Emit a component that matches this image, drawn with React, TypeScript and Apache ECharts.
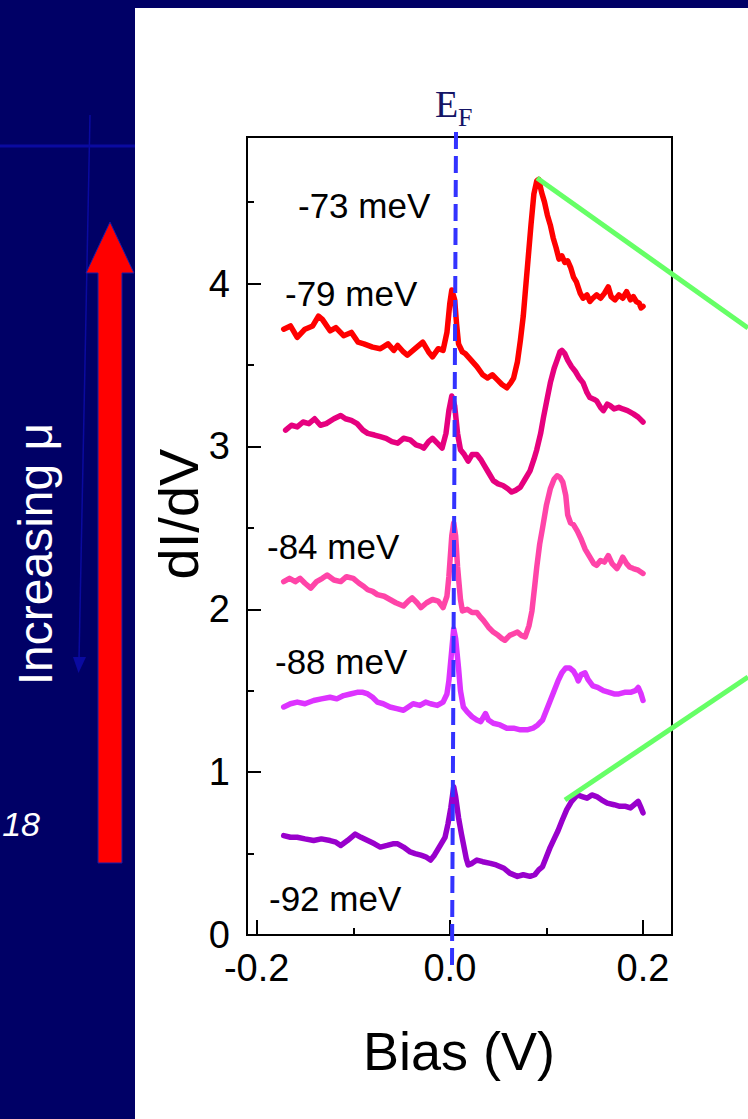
import React, { useEffect, useRef } from "react";
import * as echarts from "echarts";

// ---- data (Bias V, dI/dV offset) ----
const seriesNames = ["-73 meV", "-79 meV", "-84 meV", "-88 meV", "-92 meV"];
const seriesColors = ["#ff0000", "#e6007e", "#ff44a8", "#dd33ff", "#9900cc"];

const curve73: number[][] = [[-0.172,3.72],[-0.165,3.74],[-0.158,3.67],[-0.150,3.72],[-0.142,3.74],[-0.136,3.80],[-0.132,3.78],[-0.124,3.71],[-0.118,3.73],[-0.110,3.68],[-0.102,3.70],[-0.095,3.64],[-0.089,3.63],[-0.080,3.61],[-0.072,3.60],[-0.064,3.63],[-0.058,3.59],[-0.054,3.62],[-0.048,3.58],[-0.044,3.56],[-0.036,3.60],[-0.028,3.64],[-0.022,3.58],[-0.018,3.55],[-0.012,3.60],[-0.007,3.59],[-0.003,3.70],[0.000,3.88],[0.002,3.96],[0.005,3.90],[0.007,3.75],[0.009,3.63],[0.013,3.58],[0.016,3.57],[0.022,3.53],[0.028,3.49],[0.034,3.44],[0.039,3.42],[0.044,3.44],[0.049,3.41],[0.054,3.38],[0.059,3.36],[0.063,3.39],[0.066,3.42],[0.070,3.52],[0.073,3.65],[0.076,3.80],[0.078,3.94],[0.081,4.15],[0.084,4.36],[0.087,4.55],[0.090,4.63],[0.092,4.64],[0.095,4.56],[0.098,4.50],[0.101,4.42],[0.104,4.36],[0.107,4.28],[0.110,4.22],[0.113,4.15],[0.116,4.17],[0.119,4.13],[0.122,4.14],[0.125,4.10],[0.128,4.04],[0.131,4.01],[0.135,3.94],[0.138,3.91],[0.142,3.93],[0.145,3.89],[0.148,3.91],[0.152,3.93],[0.156,3.91],[0.160,3.94],[0.164,3.98],[0.167,3.92],[0.171,3.90],[0.175,3.93],[0.179,3.91],[0.183,3.95],[0.187,3.90],[0.190,3.92],[0.193,3.89],[0.196,3.88],[0.198,3.85],[0.200,3.86]];

const curve79: number[][] = [[-0.170,3.10],[-0.164,3.13],[-0.158,3.12],[-0.152,3.15],[-0.146,3.14],[-0.140,3.17],[-0.134,3.13],[-0.128,3.14],[-0.120,3.17],[-0.113,3.19],[-0.108,3.17],[-0.102,3.16],[-0.096,3.14],[-0.090,3.10],[-0.085,3.08],[-0.078,3.07],[-0.072,3.06],[-0.066,3.05],[-0.060,3.03],[-0.054,3.02],[-0.048,3.05],[-0.041,3.04],[-0.035,3.01],[-0.030,3.00],[-0.027,2.99],[-0.022,3.03],[-0.018,3.05],[-0.013,3.02],[-0.008,2.99],[-0.004,3.08],[-0.001,3.22],[0.002,3.31],[0.005,3.25],[0.008,3.08],[0.011,2.98],[0.015,2.95],[0.019,2.91],[0.023,2.95],[0.028,2.95],[0.032,2.92],[0.035,2.89],[0.040,2.84],[0.045,2.79],[0.050,2.77],[0.055,2.76],[0.060,2.74],[0.064,2.72],[0.068,2.73],[0.073,2.75],[0.078,2.80],[0.083,2.85],[0.087,2.92],[0.090,2.98],[0.094,3.08],[0.097,3.18],[0.101,3.30],[0.104,3.39],[0.108,3.48],[0.111,3.53],[0.114,3.58],[0.116,3.59],[0.119,3.57],[0.122,3.53],[0.126,3.49],[0.130,3.46],[0.134,3.42],[0.138,3.39],[0.142,3.33],[0.145,3.30],[0.149,3.29],[0.152,3.28],[0.156,3.24],[0.159,3.22],[0.163,3.26],[0.166,3.25],[0.170,3.23],[0.175,3.24],[0.179,3.23],[0.184,3.22],[0.190,3.20],[0.195,3.18],[0.200,3.15]];

const curve84: number[][] = [[-0.172,2.17],[-0.166,2.19],[-0.160,2.17],[-0.155,2.19],[-0.150,2.16],[-0.144,2.13],[-0.138,2.17],[-0.132,2.19],[-0.127,2.21],[-0.120,2.18],[-0.113,2.17],[-0.107,2.20],[-0.100,2.19],[-0.094,2.16],[-0.089,2.14],[-0.085,2.12],[-0.080,2.11],[-0.075,2.09],[-0.068,2.08],[-0.062,2.06],[-0.056,2.04],[-0.048,2.02],[-0.043,2.05],[-0.039,2.07],[-0.034,2.04],[-0.030,2.01],[-0.024,2.04],[-0.018,2.06],[-0.012,2.05],[-0.007,2.01],[-0.003,2.08],[-0.001,2.20],[0.002,2.45],[0.004,2.53],[0.006,2.45],[0.008,2.26],[0.011,2.06],[0.013,1.99],[0.018,2.00],[0.023,1.98],[0.028,1.98],[0.032,1.95],[0.035,1.93],[0.040,1.89],[0.045,1.86],[0.050,1.84],[0.054,1.82],[0.057,1.81],[0.062,1.84],[0.066,1.85],[0.070,1.86],[0.074,1.84],[0.078,1.83],[0.082,1.90],[0.085,1.99],[0.088,2.15],[0.090,2.26],[0.093,2.40],[0.096,2.50],[0.100,2.64],[0.104,2.74],[0.108,2.80],[0.111,2.82],[0.114,2.81],[0.117,2.78],[0.120,2.70],[0.122,2.58],[0.125,2.53],[0.128,2.52],[0.132,2.48],[0.136,2.43],[0.140,2.37],[0.145,2.32],[0.149,2.28],[0.152,2.27],[0.156,2.30],[0.160,2.29],[0.164,2.33],[0.168,2.28],[0.173,2.25],[0.176,2.28],[0.179,2.32],[0.183,2.28],[0.186,2.26],[0.190,2.25],[0.195,2.24],[0.200,2.22]];

const curve88: number[][] = [[-0.172,1.40],[-0.165,1.42],[-0.158,1.43],[-0.150,1.42],[-0.141,1.44],[-0.133,1.45],[-0.124,1.46],[-0.117,1.45],[-0.110,1.47],[-0.103,1.48],[-0.096,1.49],[-0.090,1.49],[-0.085,1.48],[-0.080,1.46],[-0.075,1.43],[-0.069,1.42],[-0.062,1.40],[-0.055,1.39],[-0.048,1.38],[-0.043,1.40],[-0.038,1.42],[-0.031,1.41],[-0.025,1.43],[-0.020,1.42],[-0.013,1.41],[-0.007,1.43],[-0.003,1.48],[-0.001,1.56],[0.002,1.75],[0.004,1.88],[0.006,1.82],[0.009,1.64],[0.011,1.50],[0.014,1.40],[0.018,1.37],[0.023,1.34],[0.028,1.32],[0.032,1.31],[0.035,1.34],[0.037,1.36],[0.040,1.32],[0.045,1.30],[0.052,1.29],[0.059,1.27],[0.066,1.27],[0.073,1.26],[0.080,1.26],[0.086,1.27],[0.091,1.29],[0.096,1.32],[0.100,1.38],[0.104,1.44],[0.108,1.50],[0.112,1.56],[0.116,1.61],[0.120,1.64],[0.124,1.64],[0.128,1.62],[0.131,1.59],[0.133,1.56],[0.136,1.60],[0.140,1.61],[0.143,1.57],[0.148,1.53],[0.153,1.52],[0.159,1.50],[0.165,1.49],[0.170,1.48],[0.175,1.48],[0.181,1.49],[0.187,1.49],[0.192,1.50],[0.195,1.52],[0.198,1.48],[0.200,1.44]];

const curve92: number[][] = [[-0.172,0.61],[-0.165,0.60],[-0.158,0.60],[-0.150,0.59],[-0.141,0.58],[-0.133,0.59],[-0.124,0.58],[-0.118,0.57],[-0.113,0.55],[-0.106,0.58],[-0.098,0.62],[-0.092,0.60],[-0.085,0.58],[-0.078,0.56],[-0.072,0.54],[-0.065,0.55],[-0.059,0.56],[-0.054,0.56],[-0.048,0.54],[-0.041,0.51],[-0.036,0.50],[-0.030,0.49],[-0.025,0.48],[-0.020,0.46],[-0.016,0.49],[-0.013,0.52],[-0.009,0.56],[-0.005,0.60],[-0.002,0.68],[0.001,0.78],[0.004,0.91],[0.006,0.85],[0.009,0.72],[0.012,0.62],[0.014,0.56],[0.017,0.47],[0.019,0.43],[0.023,0.44],[0.028,0.46],[0.034,0.45],[0.042,0.44],[0.048,0.43],[0.056,0.41],[0.062,0.38],[0.070,0.36],[0.076,0.37],[0.083,0.36],[0.088,0.37],[0.092,0.40],[0.096,0.42],[0.100,0.48],[0.104,0.54],[0.108,0.59],[0.112,0.64],[0.116,0.70],[0.121,0.77],[0.126,0.82],[0.132,0.86],[0.137,0.85],[0.142,0.84],[0.147,0.86],[0.152,0.85],[0.157,0.83],[0.163,0.81],[0.170,0.80],[0.176,0.79],[0.182,0.79],[0.187,0.78],[0.191,0.80],[0.195,0.82],[0.198,0.78],[0.200,0.75]];

const curves = [curve73, curve79, curve84, curve88, curve92];

const xMajorTicks = [-0.2, 0, 0.2];
const xMinorTicks = [-0.1, 0.1];
const yMajorTicks = [0, 1, 2, 3, 4];
const yMinorTicks = [0.5, 1.5, 2.5, 3.5, 4.5];

const X_MIN = -0.21;
const X_MAX = 0.23;
const Y_MIN = 0;
const Y_MAX = 4.9;

const SANS = "'Liberation Sans', Arial, sans-serif";
const SERIF = "'Liberation Serif', 'Times New Roman', serif";

export default function App() {
  const ref = useRef<HTMLDivElement>(null);

  useEffect(() => {
    if (!ref.current) return;
    const chart = echarts.init(ref.current, undefined, { renderer: "svg" });

    const labelPos = [
      [298, 205],
      [285, 293],
      [267, 546],
      [275, 661],
      [269, 898],
    ];

    const graphic: any[] = [
      // left panel decorations
      { type: "line", shape: { x1: 0, y1: 146, x2: 135, y2: 146 }, style: { stroke: "#0a0aa0", lineWidth: 3 }, z: 1 },
      { type: "line", shape: { x1: 90, y1: 115, x2: 79, y2: 660 }, style: { stroke: "#0a0aa0", lineWidth: 1.5 }, z: 1 },
      { type: "polygon", shape: { points: [[73, 657], [86, 657], [78.5, 673]] }, style: { fill: "#0a0aa0" }, z: 1 },
      {
        type: "polygon",
        shape: { points: [[110, 222], [134, 273], [122, 273], [122, 863], [98, 863], [98, 273], [86, 273]] },
        style: { fill: "#ff0000", stroke: "#1a1aa8", lineWidth: 1 },
        z: 2,
      },
      {
        type: "text", x: 35, y: 554, rotation: Math.PI / 2, z: 3,
        style: { text: "Increasing \u03bc", fill: "#ffffff", font: `48px ${SANS}`, textAlign: "center", textVerticalAlign: "middle" },
      },
      {
        type: "text", x: 40, y: 824, z: 3,
        style: { text: "18", fill: "#ffffff", font: `italic 34px ${SANS}`, textAlign: "right", textVerticalAlign: "middle" },
      },
      // axis titles
      {
        type: "text", x: 178, y: 514, rotation: Math.PI / 2, z: 3,
        style: { text: "dI/dV", fill: "#000", font: `56px ${SANS}`, textAlign: "center", textVerticalAlign: "middle" },
      },
      {
        type: "text", x: 459, y: 1051, z: 3,
        style: { text: "Bias (V)", fill: "#000", font: `54px ${SANS}`, textAlign: "center", textVerticalAlign: "middle" },
      },
      // E_F label
      {
        type: "text", x: 435, y: 104, z: 3,
        style: { text: "E", fill: "#141466", font: `38px ${SERIF}`, textAlign: "left", textVerticalAlign: "middle" },
      },
      {
        type: "text", x: 458, y: 117, z: 3,
        style: { text: "F", fill: "#141466", font: `26px ${SERIF}`, textAlign: "left", textVerticalAlign: "middle" },
      },
      // dashed Fermi-level line
      {
        type: "line", shape: { x1: 456, y1: 132, x2: 452, y2: 965 }, z: 50,
        style: { stroke: "#3333ff", lineWidth: 4, lineDash: [17, 7] },
      },
      // green guide lines
      { type: "line", shape: { x1: 537, y1: 178, x2: 748, y2: 328 }, z: 60, style: { stroke: "#66ff66", lineWidth: 5 } },
      { type: "line", shape: { x1: 565, y1: 800, x2: 748, y2: 677 }, z: 60, style: { stroke: "#66ff66", lineWidth: 5 } },
    ];

    seriesNames.forEach((n, i) => {
      graphic.push({
        type: "text", x: labelPos[i][0], y: labelPos[i][1], z: 3,
        style: { text: n, fill: "#000", font: `35px ${SANS}`, textAlign: "left", textVerticalAlign: "middle" },
      });
    });

    const option: any = {
      animation: false,
      backgroundColor: "transparent",
      grid: {
        left: 247, top: 137, width: 425, height: 798,
        show: true, borderColor: "#000", borderWidth: 2, backgroundColor: "transparent",
      },
      xAxis: [
        {
          type: "value", min: X_MIN, max: X_MAX, position: "bottom",
          axisLine: { show: true, onZero: false, lineStyle: { color: "#000", width: 2 } },
          axisTick: { show: true, inside: true, length: 15, lineStyle: { color: "#000", width: 2 }, customValues: xMajorTicks },
          axisLabel: {
            show: true, margin: 14, color: "#000", fontSize: 38, fontFamily: SANS,
            customValues: xMajorTicks,
            formatter: (v: number) => v.toFixed(1),
          },
          splitLine: { show: false },
        },
        {
          type: "value", min: X_MIN, max: X_MAX, position: "bottom", gridIndex: 0,
          axisLine: { show: false, onZero: false },
          axisTick: { show: true, inside: true, length: 7, lineStyle: { color: "#000", width: 2 }, customValues: xMinorTicks },
          axisLabel: { show: false },
          splitLine: { show: false },
        },
      ],
      yAxis: [
        {
          type: "value", min: Y_MIN, max: Y_MAX, position: "left",
          axisLine: { show: true, onZero: false, lineStyle: { color: "#000", width: 2 } },
          axisTick: { show: true, inside: true, length: 14, lineStyle: { color: "#000", width: 2 }, customValues: yMajorTicks },
          axisLabel: {
            show: true, margin: 17, color: "#000", fontSize: 38, fontFamily: SANS,
            customValues: yMajorTicks,
            formatter: (v: number) => String(Math.round(v)),
          },
          splitLine: { show: false },
        },
        {
          type: "value", min: Y_MIN, max: Y_MAX, position: "left", offset: 0, gridIndex: 0,
          axisLine: { show: false, onZero: false },
          axisTick: { show: true, inside: true, length: 7, lineStyle: { color: "#000", width: 2 }, customValues: yMinorTicks },
          axisLabel: { show: false },
          splitLine: { show: false },
        },
      ],
      series: curves.map((d, i) => ({
        name: seriesNames[i],
        type: "line",
        xAxisIndex: 0,
        yAxisIndex: 0,
        data: d,
        showSymbol: false,
        symbol: "none",
        smooth: false,
        lineStyle: { color: seriesColors[i], width: 5.5, cap: "round", join: "round" },
        z: 10,
      })),
      graphic: { elements: graphic },
    };

    chart.setOption(option);
    return () => chart.dispose();
  }, []);

  return (
    <div style={{ position: "fixed", left: 0, top: 0, width: 748, height: 1119, background: "#000066", overflow: "hidden" }}>
      <div style={{ position: "absolute", left: 135, top: 8, width: 613, height: 1111, background: "#ffffff" }} />
      <div ref={ref} style={{ position: "absolute", left: 0, top: 0, width: 748, height: 1119 }} />
    </div>
  );
}
